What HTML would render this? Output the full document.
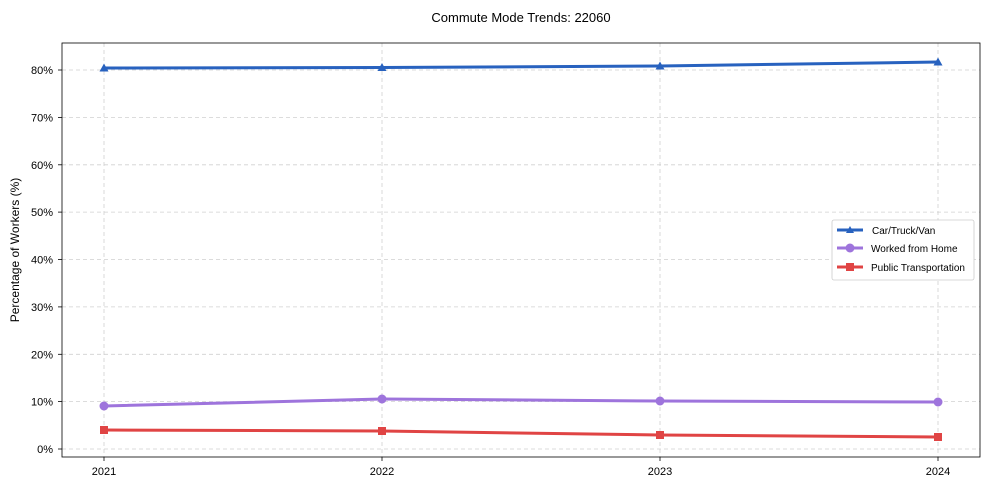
<!DOCTYPE html>
<html><head><style>body{margin:0;background:#fff}svg{display:block;font-family:"Liberation Sans",Arial,sans-serif}</style></head><body>
<svg width="990" height="490" viewBox="0 0 990 490">
<rect width="990" height="490" fill="#fff"/>
<text x="521" y="22" font-size="13" text-anchor="middle">Commute Mode Trends: 22060</text>
<g stroke="#d0d0d0" stroke-dasharray="4,3" stroke-width="0.8">
<line x1="62" x2="980" y1="449" y2="449"/><line x1="62" x2="980" y1="401.6" y2="401.6"/><line x1="62" x2="980" y1="354.3" y2="354.3"/><line x1="62" x2="980" y1="306.9" y2="306.9"/><line x1="62" x2="980" y1="259.5" y2="259.5"/><line x1="62" x2="980" y1="212.1" y2="212.1"/><line x1="62" x2="980" y1="164.8" y2="164.8"/><line x1="62" x2="980" y1="117.4" y2="117.4"/><line x1="62" x2="980" y1="70" y2="70"/>
<line x1="104" x2="104" y1="43" y2="457"/><line x1="382" x2="382" y1="43" y2="457"/><line x1="660" x2="660" y1="43" y2="457"/><line x1="938" x2="938" y1="43" y2="457"/>
</g>
<rect x="62" y="43" width="918" height="414" fill="none" stroke="#000" stroke-width="0.8"/>
<g font-size="11" text-anchor="end">
<text x="53" y="453">0%</text><text x="53" y="405.6">10%</text><text x="53" y="358.3">20%</text><text x="53" y="310.9">30%</text><text x="53" y="263.5">40%</text><text x="53" y="216.1">50%</text><text x="53" y="168.8">60%</text><text x="53" y="121.4">70%</text><text x="53" y="74">80%</text>
</g>
<g stroke="#000" stroke-width="0.8">
<line x1="58" x2="62" y1="449" y2="449"/><line x1="58" x2="62" y1="401.6" y2="401.6"/><line x1="58" x2="62" y1="354.3" y2="354.3"/><line x1="58" x2="62" y1="306.9" y2="306.9"/><line x1="58" x2="62" y1="259.5" y2="259.5"/><line x1="58" x2="62" y1="212.1" y2="212.1"/><line x1="58" x2="62" y1="164.8" y2="164.8"/><line x1="58" x2="62" y1="117.4" y2="117.4"/><line x1="58" x2="62" y1="70" y2="70"/>
<line x1="104" x2="104" y1="457" y2="461"/><line x1="382" x2="382" y1="457" y2="461"/><line x1="660" x2="660" y1="457" y2="461"/><line x1="938" x2="938" y1="457" y2="461"/>
</g>
<g font-size="11" text-anchor="middle"><text x="104" y="475">2021</text><text x="382" y="475">2022</text><text x="660" y="475">2023</text><text x="938" y="475">2024</text></g>
<text transform="translate(19,250) rotate(-90)" font-size="12" text-anchor="middle">Percentage of Workers (%)</text>
<polyline points="104,68 382,67.5 660,66 938,62" fill="none" stroke="#2862bf" stroke-width="3"/>
<g fill="#2862bf"><path d="M104,63.5l4.5,8h-9z"/><path d="M382,63l4.5,8h-9z"/><path d="M660,61.5l4.5,8h-9z"/><path d="M938,57.5l4.5,8h-9z"/></g>
<polyline points="104,406 382,399 660,401 938,402" fill="none" stroke="#9e74dc" stroke-width="3"/>
<g fill="#9e74dc"><circle cx="104" cy="406" r="4.5"/><circle cx="382" cy="399" r="4.5"/><circle cx="660" cy="401" r="4.5"/><circle cx="938" cy="402" r="4.5"/></g>
<polyline points="104,430 382,431 660,435 938,437" fill="none" stroke="#e04444" stroke-width="3"/>
<g fill="#e04444"><rect x="100" y="426" width="8" height="8"/><rect x="378" y="427" width="8" height="8"/><rect x="656" y="431" width="8" height="8"/><rect x="934" y="433" width="8" height="8"/></g>
<rect x="832" y="220" width="142" height="60" rx="2" fill="#fff" stroke="#ccc" stroke-width="0.8"/>
<line x1="837" x2="863" y1="230" y2="230" stroke="#2862bf" stroke-width="3"/><path d="M850,226l4,7h-8z" fill="#2862bf"/>
<line x1="837" x2="863" y1="248" y2="248" stroke="#9e74dc" stroke-width="3"/><circle cx="850" cy="248" r="4.5" fill="#9e74dc"/>
<line x1="837" x2="863" y1="267" y2="267" stroke="#e04444" stroke-width="3"/><rect x="846" y="263" width="8" height="8" fill="#e04444"/>
<g font-size="10"><text x="872" y="234">Car/Truck/Van</text><text x="871" y="252">Worked from Home</text><text x="871" y="271">Public Transportation</text></g>
</svg>
</body></html>
